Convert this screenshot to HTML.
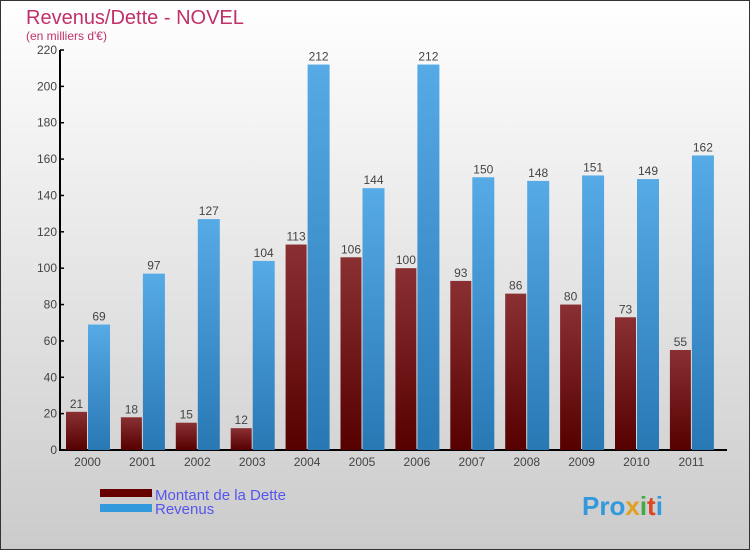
<!DOCTYPE html>
<html><head><meta charset="utf-8"><style>
body{margin:0;width:750px;height:550px;overflow:hidden;font-family:"Liberation Sans",sans-serif}
</style></head><body>
<svg width="750" height="550" xmlns="http://www.w3.org/2000/svg">
<defs>
<linearGradient id="bg" x1="0" y1="0" x2="0" y2="1"><stop offset="0" stop-color="#ffffff"/><stop offset="1" stop-color="#cbcbcb"/></linearGradient>
<linearGradient id="gd" x1="0" y1="0" x2="0" y2="1"><stop offset="0" stop-color="#8a3033"/><stop offset="1" stop-color="#560000"/></linearGradient>
<linearGradient id="gr" x1="0" y1="0" x2="0" y2="1"><stop offset="0" stop-color="#56aae6"/><stop offset="1" stop-color="#2878b4"/></linearGradient>
</defs>
<rect x="0.5" y="0.5" width="749" height="549" fill="url(#bg)" stroke="#333"/>
<text x="26" y="24" font-size="20" fill="#c0306a">Revenus/Dette - NOVEL</text>
<text x="26" y="40" font-size="12" fill="#c0306a">(en milliers d'€)</text>
<g id="axes"></g>
<g id="bars"></g>
<rect x="100" y="489" width="52" height="8" fill="#660000"/>
<rect x="100" y="504" width="52" height="8" fill="#3399dd"/>
<text x="155" y="500" font-size="15" fill="#5555ee">Montant de la Dette</text>
<text x="155" y="514" font-size="15" fill="#5555ee">Revenus</text>
<text x="582" y="515" font-size="26" font-weight="bold" fill="#3399dd">Pro<tspan fill="#e0a020">x</tspan><tspan fill="#44aa44">i</tspan><tspan fill="#dd4422">t</tspan>i</text>
</svg>
<script>
const years=["2000","2001","2002","2003","2004","2005","2006","2007","2008","2009","2010","2011"];
const dette=[21,18,15,12,113,106,100,93,86,80,73,55];
const revenus=[69,97,127,104,212,144,212,150,148,151,149,162];
const yTicks=[0,20,40,60,80,100,120,140,160,180,200,220];
const NS="http://www.w3.org/2000/svg";
const y0=450,yTop=50,yMax=220;
const y=v=>y0-v*(y0-yTop)/yMax;
const gx=i=>66+i*54.9;
function mk(tag,attrs,parent,txt){const e=document.createElementNS(NS,tag);for(const k in attrs)e.setAttribute(k,attrs[k]);if(txt!==undefined)e.textContent=txt;parent.appendChild(e);return e;}
const ax=document.getElementById('axes'),bg=document.getElementById('bars');
let l=mk('line',{x1:60,y1:y(yMax),x2:60,y2:y0,stroke:'#000','stroke-width':2},ax);


l=mk('line',{x1:59,y1:y0,x2:727,y2:y0,stroke:'#000','stroke-width':2},ax);


yTicks.forEach(t=>{
 const tk=mk('line',{x1:60,y1:y(t),x2:64,y2:y(t),stroke:'#000','stroke-width':1.5},ax);
 
 
 const tl=mk('text',{x:57,y:y(t)+4,'text-anchor':'end','font-size':12,fill:'#444'},ax,t);
 
 
});
years.forEach((yr,i)=>{
 const x=gx(i);
 const xl=mk('text',{x:x+21.5,y:466,'text-anchor':'middle','font-size':12,fill:'#444'},ax,yr);
 
 
 const b1=mk('rect',{x:x,y:y(dette[i]),width:21,height:y0-y(dette[i]),fill:'url(#gd)'},bg);
 
 
 const b2=mk('rect',{x:x+22,y:y(revenus[i]),width:22,height:y0-y(revenus[i]),fill:'url(#gr)'},bg);
 
 
 const t1=mk('text',{x:x+10.5,y:y(dette[i])-4,'text-anchor':'middle','font-size':12,fill:'#444'},bg,dette[i]);
 
 
 const t2=mk('text',{x:x+33,y:y(revenus[i])-4,'text-anchor':'middle','font-size':12,fill:'#444'},bg,revenus[i]);
 
 
});
</script>
</body></html>
